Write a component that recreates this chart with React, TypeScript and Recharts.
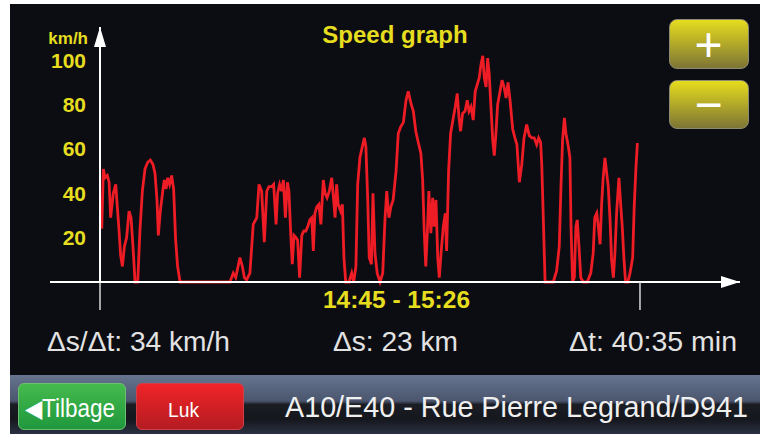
import React from 'react';
import { LineChart, Line, XAxis, YAxis } from 'recharts';

// elapsed seconds since 14:45 and speed in km/h
const TIME_S = [
  8, 15, 23, 33, 41, 48, 60, 71, 78, 86, 93, 101, 110, 120, 131, 140, 150, 158, 170, 180,
  191, 203, 215, 227, 239, 248, 257, 263, 272, 283, 290, 298, 305, 314, 323, 332, 341, 350, 361, 586,
  601, 612, 631, 642, 651, 661, 676, 691, 707, 717, 729, 741, 752, 762, 774, 783, 794, 801, 810, 819,
  827, 836, 845, 852, 860, 867, 875, 884, 891, 900, 910, 919, 928, 937, 946, 955, 962, 969, 978, 987,
  996, 1007, 1015, 1024, 1034, 1045, 1052, 1060, 1067, 1074, 1085, 1093, 1100, 1108, 1123, 1135, 1144, 1154, 1162, 1172,
  1185, 1192, 1199, 1207, 1214, 1224, 1231, 1240, 1250, 1263, 1275, 1285, 1293, 1303, 1312, 1322, 1335, 1345, 1356, 1368,
  1380, 1390, 1401, 1413, 1424, 1435, 1447, 1455, 1462, 1469, 1476, 1483, 1492, 1500, 1507, 1515, 1523, 1530, 1538, 1548,
  1557, 1563, 1572, 1581, 1593, 1602, 1611, 1619, 1626, 1635, 1646, 1656, 1664, 1673, 1683, 1692, 1701, 1710, 1718, 1726,
  1733, 1741, 1748, 1755, 1763, 1771, 1778, 1786, 1793, 1804, 1813, 1822, 1831, 1840, 1849, 1861, 1871, 1880, 1891, 1902,
  1912, 1924, 1936, 1947, 1958, 1969, 1978, 1987, 1992, 1999, 2007, 2044, 2059, 2071, 2079, 2086, 2094, 2101, 2112, 2119,
  2124, 2131, 2139, 2146, 2152, 2160, 2168, 2179, 2197, 2213, 2224, 2231, 2240, 2247, 2255, 2262, 2269, 2277, 2285, 2292,
  2300, 2307, 2315, 2322, 2330, 2340, 2348, 2355, 2363, 2370, 2380, 2390, 2402, 2409, 2417, 2423, 2429,
];
const SPEED_KMH = [
  24, 51, 47, 48, 45, 29, 40, 44, 34, 23, 12, 7, 16, 20, 32, 29, 14, 0, 0, 23,
  41, 51, 54, 55, 53, 49, 37, 21, 32, 41, 46, 42, 47, 44, 48, 42, 19, 7, 0, 0,
  4, 2, 11, 7, 2, 1, 4, 26, 29, 44, 41, 18, 41, 43, 43, 44, 26, 40, 44, 41,
  46, 29, 45, 41, 22, 8, 21, 20, 19, 2, 21, 23, 23, 25, 28, 29, 14, 31, 34, 35,
  26, 46, 40, 38, 41, 47, 39, 29, 44, 35, 32, 35, 11, 0, 0, 4, 0, 7, 44, 56,
  62, 65, 61, 38, 11, 8, 40, 13, 4, 0, 4, 28, 41, 29, 34, 37, 50, 67, 70, 72,
  82, 86, 81, 77, 68, 63, 58, 46, 23, 7, 22, 41, 22, 38, 25, 37, 11, 2, 13, 25,
  31, 14, 50, 67, 74, 79, 85, 74, 68, 76, 77, 82, 77, 79, 73, 86, 89, 92, 98, 102,
  92, 88, 101, 94, 79, 64, 57, 68, 80, 86, 91, 88, 83, 90, 82, 69, 65, 62, 45, 53,
  65, 71, 66, 65, 65, 62, 65, 63, 53, 29, 0, 0, 5, 16, 44, 64, 74, 67, 61, 56,
  25, 0, 2, 25, 28, 16, 2, 0, 0, 4, 13, 29, 31, 25, 17, 35, 47, 56, 49, 43,
  28, 10, 2, 13, 32, 47, 35, 25, 10, 0, 0, 4, 11, 34, 52, 62, 62,
];

const Y_TICKS = [20, 40, 60, 80, 100];
const X_TICKS = [0, 2435]; // start and end of the trip (40:35 min)

const TITLE = 'Speed graph';
const UNIT = 'km/h';
const RANGE_LABEL = '14:45 - 15:26';
const AVG_LABEL = 'Δs/Δt: 34 km/h';
const DIST_LABEL = 'Δs: 23 km';
const DUR_LABEL = 'Δt: 40:35 min';
const ROAD_LABEL = 'A10/E40 - Rue Pierre Legrand/D941';
const BACK_LABEL = '◀Tilbage';
const CLOSE_LABEL = 'Luk';

const data = TIME_S.map((t, i) => ({ t, speed: SPEED_KMH[i] }));

const YELLOW = '#e6dd1f';
const FONT = '"Liberation Sans", Arial, sans-serif';

function XArrow(props: any) {
  const { x, y, width } = props.viewBox;
  const end = x + width;
  return (
    <g>
      <line x1={x - 50} y1={y} x2={x} y2={y} stroke="#fff" strokeWidth={2} />
      <polygon points={`${end},${y} ${end - 19},${y - 6} ${end - 19},${y + 6}`} fill="#fff" />
    </g>
  );
}

function YArrow(props: any) {
  const { x, y, width } = props.viewBox;
  const ax = x + width;
  return (
    <g>
      <polygon points={`${ax},${y} ${ax - 6},${y + 20} ${ax + 6},${y + 20}`} fill="#fff" />
      <text x={ax - 12} y={y + 17} textAnchor="end" fontSize={17} fontWeight="bold" fill={YELLOW} fontFamily={FONT}>
        {UNIT}
      </text>
    </g>
  );
}

const zoomBtn: React.CSSProperties = {
  position: 'absolute',
  left: 669,
  width: 78,
  borderRadius: 8,
  border: '1px solid #8c8a70',
  background: 'linear-gradient(#e6dc1e, #7d7535)',
};

export default function App() {
  return (
    <div style={{ position: 'absolute', left: 0, top: 0, width: 766, height: 434, background: '#fff', overflow: 'hidden', fontFamily: FONT }}>
      <div style={{ position: 'absolute', left: 10, top: 4, width: 750, height: 371, background: '#0c0d13' }} />
      <div
        style={{
          position: 'absolute', left: 10, top: 375, width: 750, height: 59,
          background: 'linear-gradient(#66748f 0%, #4b566e 44%, #1b1d24 50%, #15171d 75%, #2b3142 100%)',
        }}
      />
      <div style={{ position: 'absolute', left: 18, top: 383, width: 106, height: 45, borderRadius: 6, border: '1px solid #6cc070', background: 'linear-gradient(#45ba4c, #1f983e)' }} />
      <div style={{ position: 'absolute', left: 136, top: 383, width: 106, height: 45, borderRadius: 6, border: '1px solid #d04048', background: 'linear-gradient(#f02428, #b41c22)' }} />
      <div style={{ ...zoomBtn, top: 19, height: 48 }} />
      <div style={{ ...zoomBtn, top: 80, height: 47 }} />

      <div style={{ position: 'absolute', left: 0, top: 0 }}>
        <LineChart width={766} height={320} data={data} margin={{ top: 27, right: 26, bottom: 10, left: 0 }}>
          <XAxis
            type="number"
            dataKey="t"
            domain={[0, 2886]}
            ticks={X_TICKS}
            tickFormatter={() => ''}
            tickSize={28}
            height={28}
            tickLine={{ stroke: '#d8d8d8', strokeWidth: 1.5 }}
            axisLine={{ stroke: '#fff', strokeWidth: 2 }}
            label={{ content: XArrow }}
          />
          <YAxis
            type="number"
            domain={[0, 115]}
            ticks={Y_TICKS}
            width={100}
            tickLine={false}
            tickSize={6}
            tickMargin={8}
            axisLine={{ stroke: '#fff', strokeWidth: 2 }}
            tick={{ fill: YELLOW, fontSize: 21, fontWeight: 'bold', fontFamily: FONT }}
            label={{ content: YArrow }}
          />
          <Line
            type="linear"
            dataKey="speed"
            stroke="#ee1c25"
            strokeWidth={2.8}
            dot={false}
            isAnimationActive={false}
          />
        </LineChart>
      </div>

      <svg width={766} height={434} style={{ position: 'absolute', left: 0, top: 0, pointerEvents: 'none' }} fontFamily={FONT}>
        <text x={395} y={43} textAnchor="middle" fontSize={24} fontWeight="bold" fill={YELLOW}>{TITLE}</text>
        <text x={396.5} y={308} textAnchor="middle" fontSize={24.5} fontWeight="bold" fill={YELLOW}>{RANGE_LABEL}</text>
        <text x={47} y={351} fontSize={27} fill="#e2e2e2" textLength={183} lengthAdjust="spacingAndGlyphs">{AVG_LABEL}</text>
        <text x={333} y={351} fontSize={27} fill="#e2e2e2" textLength={125} lengthAdjust="spacingAndGlyphs">{DIST_LABEL}</text>
        <text x={569} y={351} fontSize={27} fill="#e2e2e2" textLength={168} lengthAdjust="spacingAndGlyphs">{DUR_LABEL}</text>
        <text x={285} y={417} fontSize={29} fill="#f0f0f0" textLength={463} lengthAdjust="spacingAndGlyphs">{ROAD_LABEL}</text>
        <text x={25} y={417} fontSize={25} fill="#fff" textLength={90} lengthAdjust="spacingAndGlyphs">{BACK_LABEL}</text>
        <text x={168} y={417} fontSize={19.5} fill="#fff" textLength={31} lengthAdjust="spacingAndGlyphs">{CLOSE_LABEL}</text>
        <text x={708.5} y={60.5} textAnchor="middle" fontSize={48} fill="#fff">+</text>
        <text x={708.5} y={121} textAnchor="middle" fontSize={48} fill="#fff">−</text>
      </svg>
    </div>
  );
}
